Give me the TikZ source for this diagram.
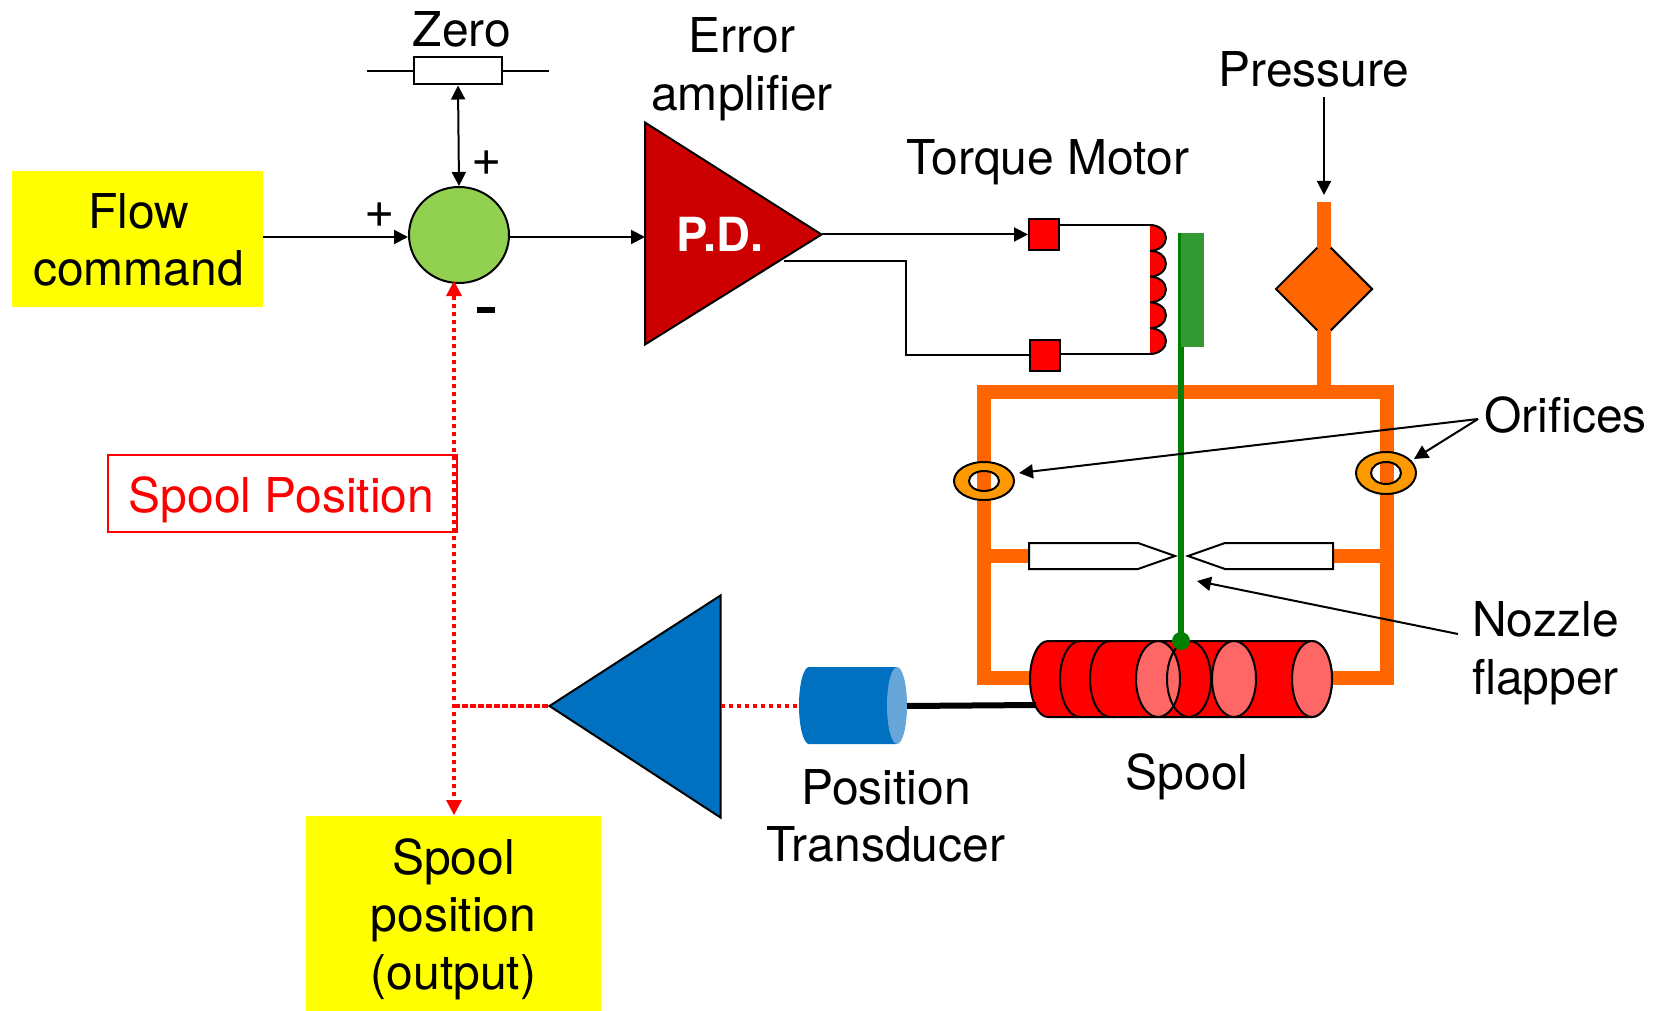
\documentclass[tikz,border=0pt]{standalone}
\usepackage{xcolor}
\usepackage{fontspec}
\setmainfont{TeX Gyre Heros}
\usetikzlibrary{positioning, arrows.meta, calc, shapes.geometric}
\definecolor{cmdyellow}{HTML}{FFFF00}
\definecolor{sumgreen}{HTML}{92D050}
\definecolor{ampred}{HTML}{CC0000}
\definecolor{pipeorange}{HTML}{FF6600}
\definecolor{ringorange}{HTML}{FF9900}
\definecolor{armgreen}{HTML}{339933}
\definecolor{rodgreen}{HTML}{008000}
\definecolor{spoolpink}{HTML}{FF6666}
\definecolor{sensorblue}{HTML}{0070C0}
\definecolor{sensorlight}{HTML}{66A6D9}
\tikzset{
  lbl/.style={font=\fontsize{48}{57.6}\selectfont, align=center, inner sep=0pt},
  cmdbox/.style={fill=cmdyellow, minimum width=#1, inner sep=0pt},
  wire/.style={line width=2pt},
  arr/.style={wire, -{Triangle[length=14pt, width=14pt]}},
  darr/.style={wire, {Triangle[length=14pt, width=14pt]}-{Triangle[length=14pt, width=14pt]}},
  redlink/.style={red, line width=4pt, dash pattern=on 4pt off 4pt},
  pipe/.style={pipeorange, line width=14pt},
  redsq/.style={fill=red, draw=black, line width=2pt, minimum width=30pt, minimum height=31pt, inner sep=0pt},
}
\begin{document}
\begin{tikzpicture}[x=1pt, y=-1pt]
  \useasboundingbox (0,0) rectangle (1655,1011);

  % pipes
  \node[diamond, fill=pipeorange, draw=black, line width=2pt, minimum width=97pt, minimum height=97pt, aspect=1, inner sep=0pt] (valve) at (1324,289) {};
  \draw[pipe] (1324,202) -- (1324,248) (1324,330) -- (1324,392);
  \draw[pipe] (977,392) -- (1394,392);
  \draw[pipe] (984,385) -- (984,678) -- (1035,678);
  \draw[pipe] (984,556) -- (1035,556);
  \draw[pipe] (1387,385) -- (1387,678) -- (1328,678);
  \draw[pipe] (1328,556) -- (1387,556);

  % orifices
  \fill[ringorange, even odd rule] (984,481) ellipse[x radius=30pt, y radius=19pt] (984,481) ellipse[x radius=15pt, y radius=10pt];
  \node[ellipse, draw=black, line width=2pt, minimum width=60pt, minimum height=38pt, inner sep=0pt] (orileft) at (984,481) {};
  \draw[wire] (984,481) ellipse[x radius=15pt, y radius=10pt];
  \fill[ringorange, even odd rule] (1386,473) ellipse[x radius=30pt, y radius=21pt] (1386,473) ellipse[x radius=15pt, y radius=11pt];
  \node[ellipse, draw=black, line width=2pt, minimum width=60pt, minimum height=42pt, inner sep=0pt] (oriright) at (1386,473) {};
  \draw[wire] (1386,473) ellipse[x radius=15pt, y radius=11pt];

  % nozzles
  \draw[wire, fill=white] (1029,543) -- (1138,543) -- (1175,556) -- (1138,569) -- (1029,569) -- cycle;
  \draw[wire, fill=white] (1333,543) -- (1225,543) -- (1188,556) -- (1225,569) -- (1333,569) -- cycle;

  % spool
  \draw[wire, fill=red] (1048,641) -- (1312,641) arc[start angle=90, end angle=-90, x radius=20pt, y radius=38pt] -- (1048,717) arc[start angle=270, end angle=90, x radius=18pt, y radius=38pt] -- cycle;
  \draw[wire] (1080,641) arc[start angle=90, end angle=270, x radius=20pt, y radius=38pt];
  \draw[wire] (1110,641) arc[start angle=90, end angle=270, x radius=20pt, y radius=38pt];
  \draw[wire, fill=spoolpink] (1158,679) ellipse[x radius=22pt, y radius=38pt];
  \draw[wire] (1189,679) ellipse[x radius=22pt, y radius=38pt];
  \draw[wire, fill=spoolpink] (1234,679) ellipse[x radius=22pt, y radius=38pt];
  \draw[wire, fill=spoolpink] (1312,679) ellipse[x radius=20pt, y radius=38pt];
  \coordinate (spoolend) at (1036,705);

  % torque motor
  \draw[rodgreen, line width=6pt] (1181,233) -- (1181,641);
  \fill[armgreen] (1181,233) rectangle (1204,347);
  \fill[rodgreen] (1181,641) circle (9pt);
  \foreach \i in {0,...,4} {
    \draw[wire, fill=red] ({1150},{225+25.8*\i}) arc[start angle=90, end angle=-90, x radius=16pt, y radius=12.9pt];
  }
  \node[redsq] (magtop) at (1044,234.5) {};
  \node[redsq] (magbot) at (1045,355) {};
  \coordinate (coiltop) at (1150,225);
  \coordinate (coilbot) at (1150,354);
  \draw[wire] (magtop.east |- coiltop) -- (coiltop);
  \draw[wire] (magbot.east |- coilbot) -- (coilbot);

  % amplifier
  \coordinate (amptip) at (821.5,234.5);
  \coordinate (ampin) at (645,237);
  \coordinate (ampout) at (784,261);
  \draw[fill=ampred, draw=black, line width=2pt] (645,122.5) -- (amptip) -- (645,344.5) -- cycle;
  \node[lbl, white, font=\fontsize{47}{54}\selectfont\bfseries] (pd) at (720,234) {P.D.};
  \draw[arr] (amptip) -- (magtop.west);
  \draw[wire] (ampout) -- (906,261) -- (906,355) -- (magbot.west);

  % summing junction
  \node[ellipse, fill=sumgreen, draw=black, line width=2pt, minimum width=100pt, minimum height=96pt, inner sep=0pt] (summer) at (459,235) {};
  \node[rectangle, draw=black, line width=2pt, fill=white, minimum width=88pt, minimum height=27pt, inner sep=0pt] (zero) at (458,71) {};
  \coordinate (zeroa) at (367,71);
  \coordinate (zerob) at (549,71);
  \draw[wire] (zeroa) -- (zero.west);
  \draw[wire] (zero.east) -- (zerob);
  \draw[darr] (zero.south) -- (summer.north);

  \node[cmdbox=251pt, minimum height=136pt] (flowcmd) at (137.5,239) {};
  \node[lbl] (flowtxt) at (138.5,240) {Flow\\command};
  \draw[arr] (flowcmd.east |- 0,237) -- (summer.west |- 0,237);
  \draw[arr] (summer.east |- 0,237) -- (ampin);

  % feedback
  \coordinate (fbamp) at (549.5,706);
  \coordinate (fbout) at (721,706);
  \coordinate (fbjoin) at (454,706);
  \draw[fill=sensorblue, draw=black, line width=2pt] (fbamp) -- (720.5,595.5) -- (720.5,817.5) -- cycle;
  \fill[sensorblue] (809,667) -- (897,667) -- (897,744) -- (809,744) arc[start angle=270, end angle=90, x radius=10pt, y radius=38.5pt] -- cycle;
  \fill[sensorlight] (897,705.5) ellipse[x radius=10pt, y radius=38.5pt];
  \draw[line width=6pt] (907,706) -- (spoolend);
  \coordinate (sensorin) at (799,706);
  \draw[redlink] (fbout) -- (sensorin);
  \draw[redlink, dash pattern=on 6pt off 2pt] (fbjoin) -- (fbamp);

  \node[cmdbox=295pt, minimum height=194.5pt] (spoolout) at (453.5,913.25) {};
  \node[lbl] (spooltxt) at (453.5,919) {Spool\\position\\(output)};
  \coordinate (sumin) at (454,281);
  \coordinate (outin) at (454,815);
  \draw[redlink] (454,296) -- (454,800);
  \fill[red] (446,296) -- (sumin) -- (462,296) -- cycle;
  \fill[red] (446,800) -- (outin) -- (462,800) -- cycle;

  \node[rectangle, draw=red, line width=2pt, minimum width=349pt, minimum height=77pt, inner sep=0pt] (spoolpos) at (282,493) {};
  \node[lbl, text=red] (spoolposlbl) at (281.5,500) {Spool Position};

  % labels
  \node[lbl] (zerolbl) at (462,29.5) {Zero};
  \node[lbl] (errlbl) at (742,69) {Error\\amplifier};
  \node[lbl] (torquelbl) at (1048,162) {Torque Motor};
  \node[lbl] (preslbl) at (1314,69) {Pressure};
  \node[lbl, anchor=west] (orilbl) at (1484,415.5) {Orifices};
  \node[lbl, align=left, anchor=west] (nozlbl) at (1472,653) {Nozzle\\flapper};
  \node[lbl] (spoollbl) at (1187,777) {Spool};
  \node[lbl] (translbl) at (886,816) {Position\\Transducer};
  \node[lbl, font=\fontsize{52}{57}\selectfont] (plusa) at (487,163) {+};
  \node[lbl, font=\fontsize{52}{57}\selectfont] (plusb) at (380,215) {+};
  \fill[black] (477,307) rectangle (495,313);

  % callouts
  \coordinate (presin) at (1324,195);
  \draw[arr] (1324,97) -- (presin);
  \coordinate (orifork) at (1478,419);
  \draw[arr] (orifork) -- (1019,473);
  \draw[arr] (orifork) -- (1414,459);
  \draw[arr] (1458,634) -- (1197,581);
\end{tikzpicture}
\end{document}
